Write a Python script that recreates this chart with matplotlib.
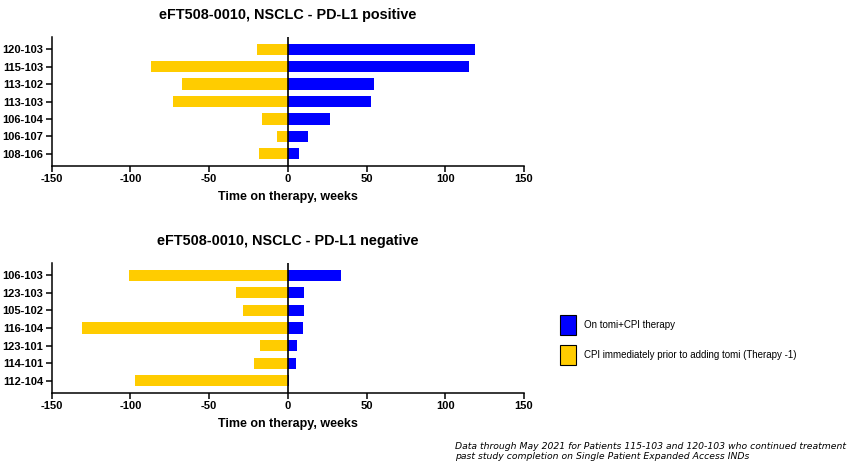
import matplotlib
matplotlib.use("Agg")
import matplotlib.pyplot as plt
from matplotlib.patches import Patch

plt.rcParams['font.family'] = ['Liberation Sans', 'DejaVu Sans']

# PD-L1 positive
pos_ids = ["120-103", "115-103", "113-102", "113-103", "106-104", "106-107", "108-106"]
pos_prior = [-19.5, -87, -67, -73, -16.5, -7, -18.5]
pos_tomi = [119, 115, 54.5, 53, 27, 13, 7]

# PD-L1 negative
neg_ids = ["106-103", "123-103", "105-102", "116-104", "123-101", "114-101", "112-104"]
neg_prior = [-101, -33, -28.5, -131, -18, -21.5, -97]
neg_tomi = [33.5, 10.5, 10, 9.5, 5.5, 5, 1]

BLUE = "#0000FF"
YELLOW = "#FFCC00"

fig = plt.figure(figsize=(8.53, 4.66), dpi=100)
W, H = 853, 466

def make_axes(top, bottom):
    return fig.add_axes([51.7 / W, 1 - bottom / H, (524 - 51.7) / W, (bottom - top) / H])

def draw_panel(ax, ids, prior, tomi, title):
    y = list(range(len(ids)))
    ax.barh(y, prior, height=0.64, color=YELLOW, edgecolor="none")
    ax.barh(y, tomi, height=0.64, color=BLUE, edgecolor="none")
    ax.axvline(0, color="black", lw=1.2)
    ax.set_xlim(-150, 150)
    ax.set_ylim(len(ids) - 0.3, -0.7)
    ax.set_yticks(y)
    ax.set_yticklabels(ids, fontweight="bold", fontsize=8)
    ax.set_xticks([-150, -100, -50, 0, 50, 100, 150])
    ax.set_xticklabels(["-150", "-100", "-50", "0", "50", "100", "150"],
                       fontweight="bold", fontsize=8)
    ax.tick_params(direction="out", length=4, width=1.1, pad=2)
    ax.spines["top"].set_visible(False)
    ax.spines["right"].set_visible(False)
    ax.spines["left"].set_linewidth(1.1)
    ax.spines["bottom"].set_linewidth(1.1)
    ax.set_xlabel("Time on therapy, weeks", fontweight="bold", fontsize=9, labelpad=5)
    ax.set_title(title, fontweight="bold", fontsize=10.4, pad=13)

ax1 = make_axes(37, 166)
draw_panel(ax1, pos_ids, pos_prior, pos_tomi, "eFT508-0010, NSCLC - PD-L1 positive")

ax2 = make_axes(263, 393)
draw_panel(ax2, neg_ids, neg_prior, neg_tomi, "eFT508-0010, NSCLC - PD-L1 negative")

handles = [Patch(facecolor=BLUE, edgecolor="black", lw=0.8),
           Patch(facecolor=YELLOW, edgecolor="black", lw=0.8)]
labels = ["On tomi+CPI therapy", "CPI immediately prior to adding tomi (Therapy -1)"]
fig.legend(handles, labels, loc="upper left", bbox_to_anchor=(552 / W, 1 - 307 / H),
           frameon=False, fontsize=7, handlelength=1.65, handleheight=2.8,
           labelspacing=1.05, handletextpad=0.8, borderpad=0.3)

fig.text(455 / W, 1 - 451.5 / H,
         "Data through May 2021 for Patients 115-103 and 120-103 who continued treatment\n"
         "past study completion on Single Patient Expanded Access INDs",
         fontsize=6.7, style="italic", family=["DejaVu Sans"], va="center", ha="left",
         linespacing=1.2)

fig.savefig("out.png", dpi=100)
